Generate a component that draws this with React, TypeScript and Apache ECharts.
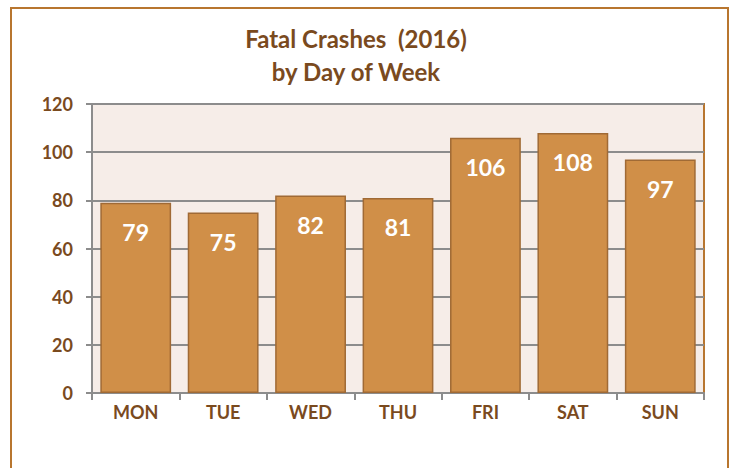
import React, { useEffect, useRef } from "react";
import * as echarts from "echarts";

const categories = ["MON", "TUE", "WED", "THU", "FRI", "SAT", "SUN"];
const crashes = [79, 75, 82, 81, 106, 108, 97];
const titleLines = ["Fatal Crashes  (2016)", "by Day of Week"];

const BROWN = "#7A4A1E";
const FONT = "Lato, 'Open Sans', sans-serif";

export default function App() {
  const ref = useRef<HTMLDivElement>(null);
  useEffect(() => {
    document.body.style.margin = "0";
    if (!ref.current) return;
    const chart = echarts.init(ref.current, null, { renderer: "svg" });
    chart.setOption({
      animation: false,
      backgroundColor: "#ffffff",
      graphic: [
        {
          type: "rect",
          shape: { x: 11, y: 8, width: 717, height: 472 },
          style: { fill: "none", stroke: "#B8762F", lineWidth: 2 },
          z: 0,
        },
        {
          type: "text",
          x: 356,
          y: 38,
          style: {
            text: titleLines[0],
            fill: BROWN,
            font: `bold 24px ${FONT}`,
            textAlign: "center",
            textVerticalAlign: "middle",
          },
        },
        {
          type: "text",
          x: 356,
          y: 71,
          style: {
            text: titleLines[1],
            fill: BROWN,
            font: `bold 24px ${FONT}`,
            textAlign: "center",
            textVerticalAlign: "middle",
          },
        },
      ],
      grid: {
        left: 92,
        top: 104,
        right: 30,
        bottom: 75,
        show: true,
        backgroundColor: "#F6EDE8",
        borderColor: "#B8762F",
        borderWidth: 2,
      },
      xAxis: {
        type: "category",
        data: categories,
        axisLine: { show: true, lineStyle: { color: "#8C8C8C", width: 2 } },
        axisTick: { show: true, length: 7, lineStyle: { color: "#8C8C8C", width: 2 } },
        axisLabel: {
          color: BROWN,
          fontFamily: FONT,
          fontWeight: "bold",
          fontSize: 18,
          margin: 10,
        },
      },
      yAxis: {
        type: "value",
        min: 0,
        max: 120,
        interval: 20,
        axisLine: { show: true, lineStyle: { color: "#8C8C8C", width: 2 } },
        axisTick: { show: true, length: 6, lineStyle: { color: "#8C8C8C", width: 2 } },
        splitLine: { show: true, lineStyle: { color: "#8C8C8C", width: 2 } },
        axisLabel: {
          color: BROWN,
          fontFamily: FONT,
          fontWeight: "bold",
          fontSize: 18,
          margin: 19,
        },
      },
      series: [
        {
          type: "bar",
          data: crashes,
          barCategoryGap: "19%",
          itemStyle: { color: "#D08F48", borderColor: "#A06A35", borderWidth: 1.5 },
          label: {
            show: true,
            position: "insideTop",
            distance: 18,
            color: "#ffffff",
            fontFamily: FONT,
            fontWeight: "bold",
            fontSize: 23,
          },
        },
      ],
    });
    return () => chart.dispose();
  }, []);
  return <div ref={ref} style={{ width: 734, height: 468 }} />;
}
